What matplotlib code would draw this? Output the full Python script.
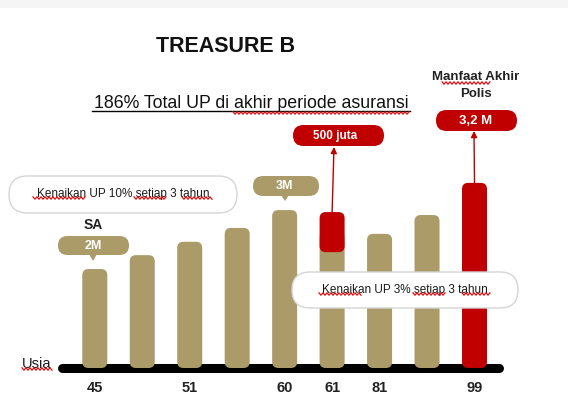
import matplotlib.pyplot as plt
from matplotlib.patches import FancyBboxPatch, Polygon, Rectangle
import numpy as np

plt.rcParams['font.family'] = ['Liberation Sans', 'DejaVu Sans']

# data (bar heights in millions, schematic)
ages = ['45', '', '51', '', '60', '61', '81', '', '99']
up_values = [2.0, 2.28, 2.55, 2.83, 3.19, 2.75, 2.71, 3.09, 3.74]
highlight = [False] * 8 + [True]
bonus_index = 5
bonus_bottom = 2.34
bonus_top = 3.15

title = 'TREASURE B'
subtitle = '186% Total UP di akhir periode asuransi'
note_early = 'Kenaikan UP 10% setiap 3 tahun'
note_late = 'Kenaikan UP 3% setiap 3 tahun'
sa_label = '2M'
peak_label = '3M'
bonus_label = '500 juta'
final_label = '3,2 M'

gold = '#AA9B69'
red = '#C00000'


def rounded_bars(ax, bars, radius, aspect):
    for rect in bars:
        x, y = rect.get_xy()
        w, h = rect.get_width(), rect.get_height()
        fb = FancyBboxPatch((x, y), w, h,
                            boxstyle=f'round,pad=0,rounding_size={radius}',
                            mutation_aspect=aspect,
                            facecolor=rect.get_facecolor(), edgecolor='none',
                            zorder=rect.get_zorder())
        rect.remove()
        ax.add_patch(fb)


def pill(ax, x0, y0, x1, y1, face, edge='none', lw=0, z=3):
    h = y1 - y0
    p = FancyBboxPatch((x0, y0), x1 - x0, h,
                       boxstyle=f'round,pad=0,rounding_size={h / 2}',
                       facecolor=face, edgecolor=edge, linewidth=lw, zorder=z)
    ax.add_patch(p)


def squiggle(ax, x0, x1, y):
    xs = np.arange(x0, x1, 2.0)
    ys = y + np.where(np.arange(len(xs)) % 2, 1.2, -1.2)
    ax.plot(xs, ys, color='#E01010', lw=0.9, zorder=6)


fig = plt.figure(figsize=(5.68, 4.19), dpi=100)
ax = fig.add_axes([0, 0, 1, 1])
ax.set_xlim(-1.997, 9.970)
ax.set_ylim(-1.030, 7.434)
ax.axis('off')

x = np.arange(len(up_values))
colors = [red if h else gold for h in highlight]
bars = ax.bar(x, up_values, width=0.527, color=colors, zorder=2)
rounded_bars(ax, bars, 0.13, 0.959)
bonus = ax.bar([bonus_index], [bonus_top - bonus_bottom], bottom=bonus_bottom,
               width=0.527, color=red, zorder=3)
rounded_bars(ax, bonus, 0.13, 0.959)

ax.axhline(0, xmin=62 / 568, xmax=499 / 568, color='black', lw=6.5,
           solid_capstyle='round', zorder=1)

for i, a in enumerate(ages):
    if a:
        ax.text(i, -0.40, a, ha='center', va='center', fontsize=10.5,
                fontweight='bold', color='#222222')

# decoration layer in pixel coordinates
deco = fig.add_axes([0, 0, 1, 1])
deco.set_xlim(0, 568)
deco.set_ylim(419, 0)
deco.axis('off')

deco.add_patch(Rectangle((0, 0), 568, 8, facecolor='#F5F5F5',
                         edgecolor='none', zorder=0))

deco.text(226, 47, title, ha='center', va='center', fontsize=15.5,
          fontweight='bold', color='#111111')
deco.text(251, 103, subtitle, ha='center', va='center', fontsize=12.8,
          color='#111111')
deco.plot([92, 410], [111, 111], color='black', lw=1)
squiggle(deco, 233, 410, 113)

pill(deco, 9, 176, 237, 213, 'white', '#D5D5D5', 1)
deco.text(123, 194, note_early, ha='center', va='center', fontsize=8.5,
          color='#1A1A1A', zorder=5)
squiggle(deco, 33, 86, 198)
squiggle(deco, 134, 167, 198)
squiggle(deco, 182, 213, 198)

pill(deco, 292, 272, 518, 308, 'white', '#D5D5D5', 1)
deco.text(405, 290, note_late, ha='center', va='center', fontsize=8.5,
          color='#1A1A1A', zorder=5)
squiggle(deco, 319, 363, 294)
squiggle(deco, 413, 447, 294)
squiggle(deco, 462, 492, 294)

deco.text(93, 225, 'SA', ha='center', va='center', fontsize=10,
          fontweight='bold', color='#222222')
pill(deco, 58, 236, 129, 255, gold)
deco.add_patch(Polygon([[89, 254], [97, 254], [93, 261]], closed=True,
                       facecolor=gold, edgecolor='none', zorder=3))
deco.text(93.5, 245.5, sa_label, ha='center', va='center', fontsize=9,
          fontweight='bold', color='white', zorder=5)

pill(deco, 253, 176, 319, 196, gold)
deco.add_patch(Polygon([[281, 195], [289, 195], [285, 201]], closed=True,
                       facecolor=gold, edgecolor='none', zorder=3))
deco.text(285, 186, peak_label, ha='center', va='center', fontsize=9,
          fontweight='bold', color='white', zorder=5)

pill(deco, 293, 125, 384, 146, red)
deco.text(335, 135.5, bonus_label, ha='center', va='center', fontsize=8.5,
          fontweight='bold', color='white', zorder=5)

deco.text(476, 77, 'Manfaat Akhir', ha='center', va='center', fontsize=9.5,
          fontweight='bold', color='#222222')
deco.text(476, 94, 'Polis', ha='center', va='center', fontsize=9.5,
          fontweight='bold', color='#222222')
squiggle(deco, 442, 492, 83)
pill(deco, 436, 110, 517, 131, red)
deco.text(476, 120.5, final_label, ha='center', va='center', fontsize=9.5,
          fontweight='bold', color='white', zorder=5)

deco.text(37, 364, 'Usia', ha='center', va='center', fontsize=10.5,
          color='#1A1A1A')
squiggle(deco, 22, 53, 369)

arrow = dict(arrowstyle='-|>', color=red, lw=1, mutation_scale=9,
             shrinkA=0, shrinkB=0)
ax.annotate('', xy=(334, 147), xycoords=deco.transData,
            xytext=(bonus_index, bonus_top), textcoords='data',
            arrowprops=arrow)
ax.annotate('', xy=(474, 131), xycoords=deco.transData,
            xytext=(len(up_values) - 1, up_values[-1]), textcoords='data',
            arrowprops=arrow)

fig.savefig('out.png', dpi=100)
